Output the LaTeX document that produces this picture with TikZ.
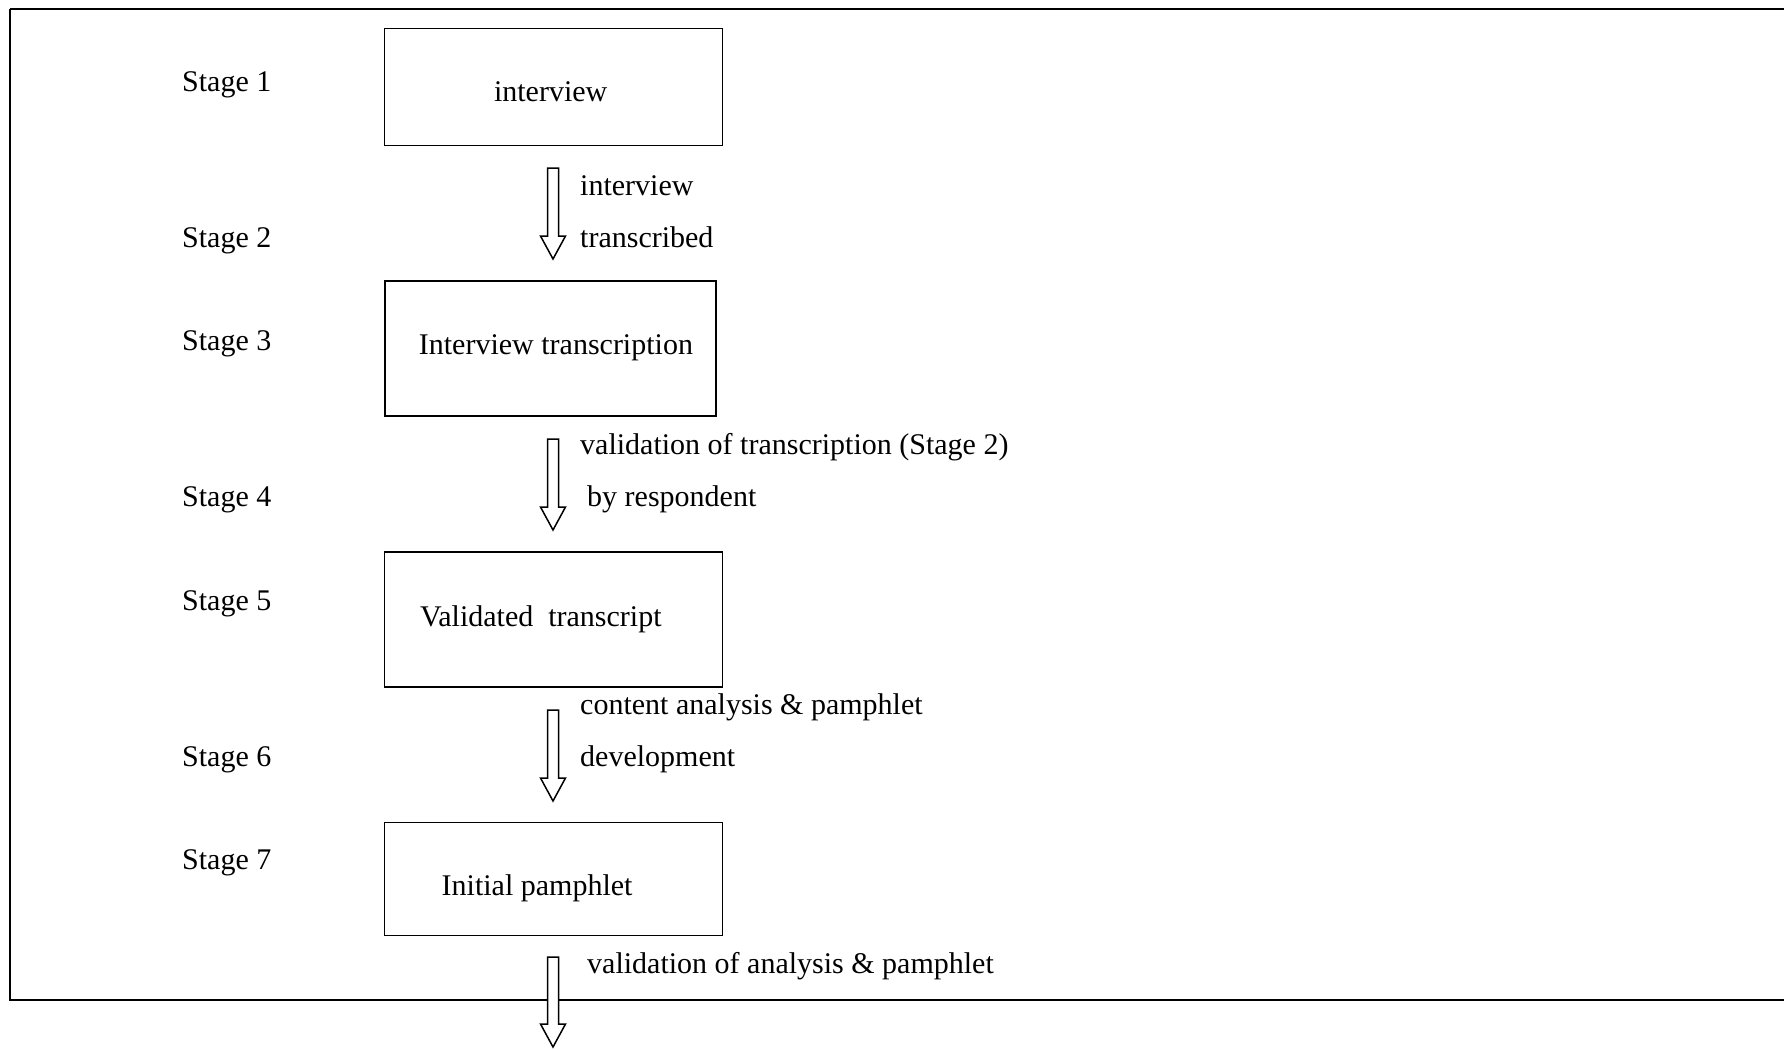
\documentclass[tikz,border=0pt]{standalone}
\usepackage{fontspec}
\setmainfont{Liberation Serif}
\usetikzlibrary{calc}
\newcommand\blockarrow[2]{%
  \draw[arrowline] ($(#1)+(-5.5,0)$) -- ($(#1)+(5.5,0)$) -- ($(#2)+(5.5,-23)$) -- ($(#2)+(12.5,-23)$) -- (#2) -- ($(#2)+(-12.5,-23)$) -- ($(#2)+(-5.5,-23)$) -- cycle;}
\begin{document}
\begin{tikzpicture}[x=1pt,y=-1pt,font=\fontsize{30}{36}\selectfont,
  box/.style={draw,line width=1.6pt,inner sep=0pt},
  arrowline/.style={draw,fill=white,line width=1.5pt,line join=miter},
  lbl/.style={anchor=base west,inner sep=0pt},
  ctr/.style={anchor=base,inner sep=0pt}]
\useasboundingbox (0,0) rectangle (1784,1049);
% frame
\draw[line width=1.2pt] (1784,9) -- (10,9);
\draw[line width=2.2pt] (10,9) -- (10,1000) -- (1784,1000);
% boxes
\node[box,minimum width=338,minimum height=117] (b1) at (553.5,87) {};
\node[box,minimum width=331,minimum height=135] (b2) at (550.2,348.7) {};
\node[box,minimum width=338,minimum height=135] (b3) at (553.5,619.5) {};
\node[box,minimum width=338,minimum height=113] (b4) at (553.5,879) {};
% box texts
\node[ctr] (t1) at (550.7,101.5) {interview};
\node[lbl] (t2) at (418.7,354.5) {Interview transcription};
\node[lbl] (t3) at (419.8,626) {Validated\ \ transcript};
\node[lbl] (t4) at (441.5,895.5) {Initial pamphlet};
% stage labels
\node[lbl] (s1) at (182,91.5) {Stage 1};
\node[lbl] (s2) at (182,247.5) {Stage 2};
\node[lbl] (s3) at (182,350.5) {Stage 3};
\node[lbl] (s4) at (182,506.5) {Stage 4};
\node[lbl] (s5) at (182,610.5) {Stage 5};
\node[lbl] (s6) at (182,766.5) {Stage 6};
\node[lbl] (s7) at (182,869.5) {Stage 7};
% arrows
\coordinate (a1s) at (553,168); \coordinate (a1e) at (553,259);
\coordinate (a2s) at (553,439); \coordinate (a2e) at (553,530);
\coordinate (a3s) at (553,710); \coordinate (a3e) at (553,801);
\coordinate (a4s) at (553,957); \coordinate (a4e) at (553,1047);
\blockarrow{a1s}{a1e}
\blockarrow{a2s}{a2e}
\blockarrow{a3s}{a3e}
\blockarrow{a4s}{a4e}
% arrow labels
\node[lbl] (l1a) at (580,195) {interview};
\node[lbl] (l1b) at (580,247.5) {transcribed};
\node[lbl] (l2a) at (580,454.5) {validation of transcription (Stage 2)};
\node[lbl] (l2b) at (587,506.5) {by respondent};
\node[lbl] (l3a) at (580,714.5) {content analysis \& pamphlet};
\node[lbl] (l3b) at (580,766.5) {development};
\node[lbl] (l4a) at (587,973.5) {validation of analysis \& pamphlet};
\end{tikzpicture}
\end{document}
